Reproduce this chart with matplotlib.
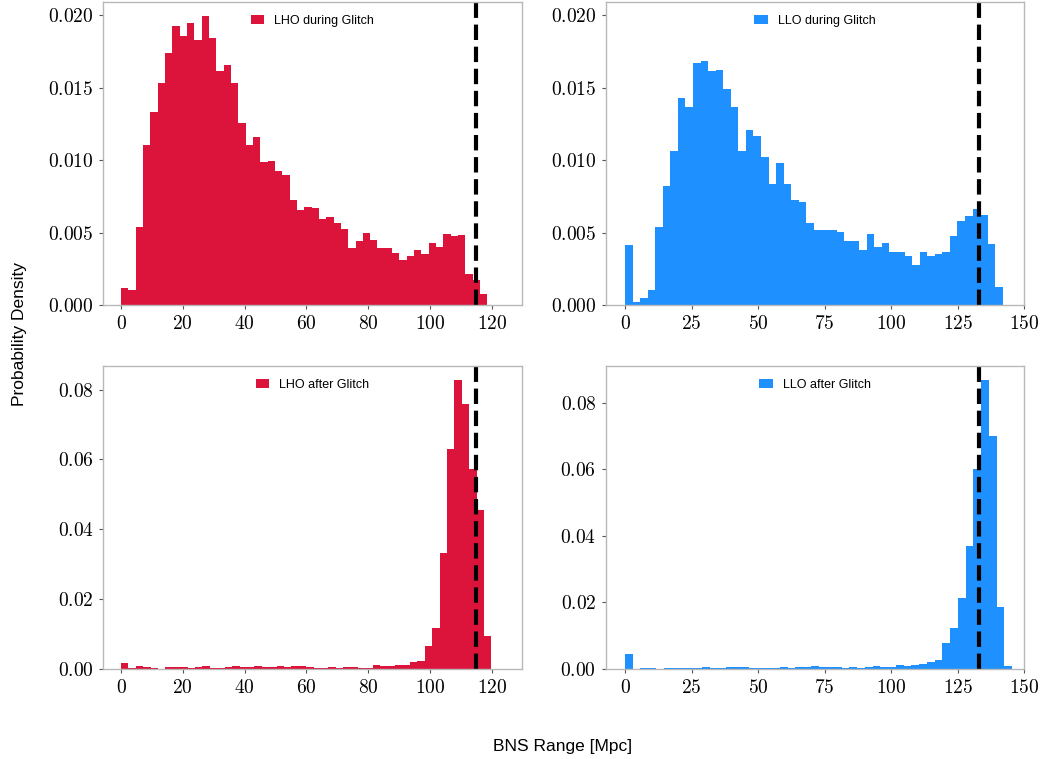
import numpy as np
import matplotlib
matplotlib.use("Agg")
import matplotlib.pyplot as plt
from matplotlib.ticker import StrMethodFormatter, MultipleLocator

# Probability density per bin (50 equal-width bins starting at 0 Mpc)
lho_during = [0.00118, 0.00106, 0.00538, 0.01103, 0.01333, 0.01532, 0.01737, 0.01929, 0.01855, 0.01949,
              0.01832, 0.01996, 0.01846, 0.01617, 0.01654, 0.01530, 0.01255, 0.01105, 0.01163, 0.00985,
              0.00992, 0.00925, 0.00897, 0.00727, 0.00655, 0.00676, 0.00667, 0.00595, 0.00611, 0.00568,
              0.00528, 0.00392, 0.00443, 0.00496, 0.00452, 0.00397, 0.00397, 0.00358, 0.00309, 0.00339,
              0.00381, 0.00353, 0.00429, 0.00399, 0.00491, 0.00478, 0.00482, 0.00217, 0.00170, 0.00074]
llo_during = [0.00413, 0.00023, 0.00046, 0.00104, 0.00540, 0.00819, 0.01066, 0.01430, 0.01366, 0.01673,
              0.01686, 0.01613, 0.01620, 0.01493, 0.01366, 0.01066, 0.01211, 0.01167, 0.01020, 0.00835,
              0.00983, 0.00835, 0.00727, 0.00711, 0.00568, 0.00521, 0.00521, 0.00517, 0.00501, 0.00445,
              0.00441, 0.00383, 0.00489, 0.00401, 0.00431, 0.00365, 0.00365, 0.00337, 0.00277, 0.00365,
              0.00341, 0.00353, 0.00365, 0.00478, 0.00579, 0.00616, 0.00664, 0.00621, 0.00424, 0.00127]
lho_after = [0.00182, 0.0003, 0.00086, 0.0005, 0.0002, 0.0001, 0.0007, 0.0005, 0.0007, 0.0003,
             0.0006, 0.0008, 0.0004, 0.0003, 0.0007, 0.0009, 0.0007, 0.0005, 0.0008, 0.0007,
             0.0007, 0.0008, 0.0005, 0.0009, 0.0010, 0.0006, 0.0004, 0.0003, 0.0006, 0.0004,
             0.0006, 0.0006, 0.0003, 0.0004, 0.00115, 0.0008, 0.0008, 0.00105, 0.00105, 0.0019,
             0.0024, 0.0066, 0.01185, 0.03326, 0.0631, 0.0827, 0.0760, 0.0572, 0.0454, 0.00946]
llo_after = [0.00462, 0.0000, 0.0002, 0.0002, 0.0001, 0.0002, 0.0002, 0.0004, 0.0004, 0.0002,
             0.0005, 0.0004, 0.0004, 0.0005, 0.0007, 0.0005, 0.0004, 0.0004, 0.0002, 0.0004,
             0.0005, 0.0004, 0.0007, 0.0005, 0.0008, 0.0005, 0.0005, 0.0005, 0.0004, 0.0005,
             0.0004, 0.0005, 0.0008, 0.0005, 0.0007, 0.0013, 0.0008, 0.0013, 0.0015, 0.0020,
             0.0028, 0.0078, 0.0123, 0.0214, 0.0371, 0.0602, 0.0868, 0.0701, 0.0185, 0.0010]

# Upper edge of the histogram range for each data set [Mpc]
lho_during_max = 118.6
llo_during_max = 141.9
lho_after_max = 119.9
llo_after_max = 145.4

# Reference BNS range of each detector [Mpc]
lho_reference = 114.8
llo_reference = 133.0

labels = ["LHO during Glitch", "LLO during Glitch", "LHO after Glitch", "LLO after Glitch"]
lho_color = "crimson"
llo_color = "dodgerblue"

plt.rcParams["mathtext.fontset"] = "cm"
plt.rcParams["font.family"] = ["Liberation Sans", "DejaVu Sans"]

fig = plt.figure(figsize=(10.41, 7.59), dpi=100)

left_l, right_l = 103.3 / 1041, 521.7 / 1041
left_r, right_r = 606.0 / 1041, 1024.3 / 1041
top_t, bot_t = 1 - 1.5 / 759, 1 - 305.0 / 759
top_b, bot_b = 1 - 365.7 / 759, 1 - 669.0 / 759

ax_tl = fig.add_axes([left_l, bot_t, right_l - left_l, top_t - bot_t])
ax_tr = fig.add_axes([left_r, bot_t, right_r - left_r, top_t - bot_t], sharey=ax_tl)
ax_bl = fig.add_axes([left_l, bot_b, right_l - left_l, top_b - bot_b])
ax_br = fig.add_axes([left_r, bot_b, right_r - left_r, top_b - bot_b])

panels = [
    (ax_tl, lho_during, lho_during_max, lho_color, labels[0], lho_reference, (-5.73, 129.7), 20, "${x:.3f}$", 0.005),
    (ax_tr, llo_during, llo_during_max, llo_color, labels[1], llo_reference, (-7.14, 150.0), 25, "${x:.3f}$", 0.005),
    (ax_bl, lho_after, lho_after_max, lho_color, labels[2], lho_reference, (-5.73, 129.7), 20, "${x:.2f}$", 0.02),
    (ax_br, llo_after, llo_after_max, llo_color, labels[3], llo_reference, (-7.14, 150.0), 25, "${x:.2f}$", 0.02),
]

for ax, dens, hi, color, label, ref, xlim, xstep, yfmt, ystep in panels:
    edges = np.linspace(0.0, hi, len(dens) + 1)
    centers = 0.5 * (edges[:-1] + edges[1:])
    ax.hist(centers, bins=edges, weights=dens, histtype="stepfilled",
            color=color, linewidth=0, label=label)
    ax.axvline(ref, color="black", linestyle="--", linewidth=3)
    ax.set_xlim(*xlim)
    ax.xaxis.set_major_locator(MultipleLocator(xstep))
    ax.yaxis.set_major_locator(MultipleLocator(ystep))
    ax.xaxis.set_major_formatter(StrMethodFormatter("${x:.0f}$"))
    ax.yaxis.set_major_formatter(StrMethodFormatter(yfmt))
    ax.tick_params(labelsize=14, length=3, width=0.8, color="#555555", pad=4)
    for sp in ax.spines.values():
        sp.set_color("#b8b8b8")
        sp.set_linewidth(1.0)
    ax.legend(loc="upper center", frameon=False, fontsize=9,
              handlelength=1.1, handleheight=0.8, borderaxespad=0.65)

ax_tr.tick_params(labelleft=True)

fig.text(0.019, 0.56, "Probability Density", rotation=90, ha="center", va="center", fontsize=12.5)
fig.text(0.54, 0.017, "BNS Range [Mpc]", ha="center", va="center", fontsize=12.5)

fig.savefig("out.png", dpi=100)
